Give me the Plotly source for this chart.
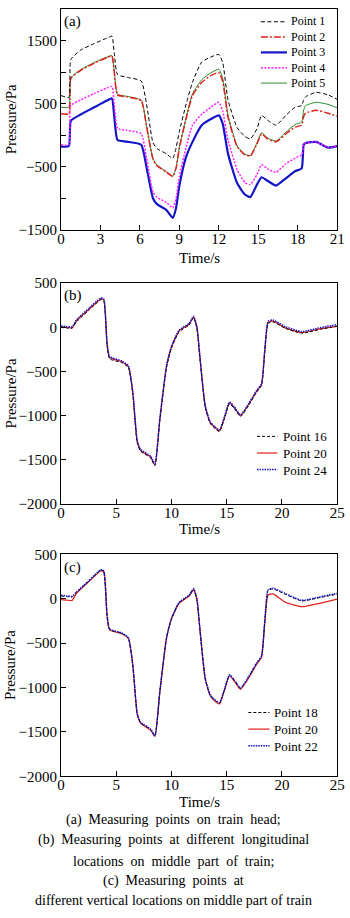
import plotly.graph_objects as go

W, H = 350, 918

# ---------------- Panel (a) data ----------------
t_a = [0, 0.6, 0.75, 1.5, 2.5, 3.5, 3.87, 4.05, 4.3, 5.0, 6.1, 6.5, 7.0, 7.3, 8.0, 8.5,
       8.75, 9.0, 9.5, 10.0, 10.7, 11.4, 12.0, 12.3, 12.7, 13.4, 14.0, 14.4, 14.9, 15.25,
       15.7, 16.35, 17.1, 17.8, 18.3, 18.45, 18.6, 19.4, 20.3, 21]
p1 = [630, 600, 1200, 1350, 1450, 1540, 1570, 1300, 960, 920, 860, 500, -120, -210, -290, -366,
      -200, 60, 480, 840, 1160, 1240, 1280, 1150, 560, 120, -20, -55, 100, 316,
      240, 160, 316, 445, 470, 560, 610, 680, 640, 570]
p2 = [340, 340, 900, 1030, 1140, 1230, 1255, 1000, 640, 610, 550, 150, -380, -480, -580, -650,
      -520, -200, 250, 630, 837, 946, 993, 850, 288, -183, -308, -328, -135, 23,
      -55, -104, 23, 130, 160, 300, 350, 395, 350, 300]
p3 = [-180, -170, 230, 330, 440, 550, 585, 300, -75, -100, -150, -500, -1000, -1090, -1180, -1307,
      -1150, -800, -350, -104, 160, 257, 316, 180, -290, -760, -940, -977, -780, -664,
      -720, -795, -680, -570, -522, -150, -120, -104, -193, -170]
p4 = [-150, -150, 470, 560, 660, 750, 774, 500, 110, 80, 26, -350, -900, -980, -1060, -1150,
      -1000, -650, -200, 160, 335, 445, 523, 380, -75, -545, -750, -780, -620, -466,
      -530, -585, -450, -360, -308, -150, -120, -104, -193, -170]
p5 = [445, 445, 910, 1040, 1150, 1240, 1262, 1010, 650, 618, 556, 158, -372, -472, -572, -645,
      -515, -190, 270, 660, 880, 990, 1045, 900, 320, -170, -300, -320, -120, 40,
      -40, -90, 50, 170, 210, 400, 470, 523, 490, 435]

# ---------------- Panel (b)/(c) time ----------------
t_bc = [0, 0.5, 1.0, 1.4, 2.5, 3.6, 3.87, 4.17, 4.4, 5.5, 6.1, 6.5, 6.9, 7.2, 8.1, 8.5,
        8.95, 9.55, 10.0, 10.7, 11.6, 12.0, 12.3, 12.6, 13.05, 13.5, 13.9, 14.35, 14.8, 15.25,
        15.7, 16.25, 17.0, 17.7, 18.15, 18.45, 18.75, 19.2, 20.3, 21.8, 23.5, 25]
b16 = [0, -8, -12, 62, 190, 312, 302, -200, -355, -400, -455, -755, -1305, -1400, -1475, -1565,
       -1050, -455, -235, -50, 25, 108, -10, -380, -900, -1085, -1140, -1180, -1030, -865,
       -920, -1010, -880, -735, -660, -270, 45, 62, -12, -65, -22, 12]
b20 = [5, 0, -5, 74, 200, 320, 310, -185, -340, -390, -445, -740, -1290, -1390, -1465, -1555,
       -1040, -445, -225, -40, 35, 115, 0, -370, -890, -1075, -1130, -1170, -1020, -855,
       -910, -1000, -870, -725, -650, -260, 55, 70, -5, -60, -15, 10]
b24 = [15, 10, 5, 85, 212, 332, 322, -175, -330, -380, -435, -730, -1280, -1380, -1455, -1545,
       -1030, -435, -215, -30, 45, 125, 10, -360, -880, -1065, -1120, -1160, -1010, -845,
       -900, -990, -860, -715, -640, -250, 68, 82, 8, -48, -2, 30]

c18 = [30, 25, 20, 70, 195, 320, 310, -185, -345, -390, -445, -745, -1295, -1395, -1470, -1545,
       -1045, -445, -225, -45, 35, 110, -5, -375, -895, -1085, -1140, -1175, -1025, -860,
       -920, -1010, -880, -730, -650, -250, 95, 110, 50, -25, 15, 50]
c20 = [-10, -15, -20, 60, 190, 312, 302, -190, -350, -395, -450, -750, -1300, -1400, -1480, -1550,
       -1050, -450, -230, -50, 30, 100, -10, -380, -900, -1090, -1150, -1185, -1030, -870,
       -930, -1020, -890, -740, -660, -270, 40, 55, -40, -90, -50, -5]
c22 = [38, 32, 26, 76, 200, 325, 315, -180, -340, -385, -440, -740, -1290, -1390, -1465, -1540,
       -1040, -440, -220, -40, 40, 115, 0, -370, -890, -1080, -1135, -1170, -1020, -855,
       -915, -1005, -875, -725, -645, -245, 102, 118, 58, -18, 22, 60]

legend_a = ["Point 1", "Point 2", "Point 3", "Point 4", "Point 5"]
legend_b = ["Point 16", "Point 20", "Point 24"]
legend_c = ["Point 18", "Point 20", "Point 22"]

xticks_a = [0, 3, 6, 9, 12, 15, 18, 21]
yticks_a = [-1500, -500, 500, 1500]
yminor_a = [-1000, 0, 1000, 2000]
xticks_bc = [0, 5, 10, 15, 20, 25]
yticks_bc = [-2000, -1500, -1000, -500, 0, 500]

caption = ["(a)  Measuring  points  on  train  head;",
           "(b)  Measuring  points  at  different  longitudinal",
           "locations  on  middle  part  of  train;",
           "(c)  Measuring  points  at",
           "different vertical locations on middle part of train"]

# ---------------- styles ----------------
FONT = "Liberation Serif"
RED = "#e0201c"
BLUE = "#1515c8"
MAG = "#ff20ff"
GRN = "#2e8b2e"

sty_a = [dict(color="black", width=1, dash="4px,2.5px"),
         dict(color=RED, width=1.5, dash="7px,2px,2px,2px"),
         dict(color=BLUE, width=2.2, dash="solid"),
         dict(color=MAG, width=1.5, dash="2px,1.5px"),
         dict(color=GRN, width=1, dash="solid")]
sty_bc = [dict(color="black", width=1, dash="3px,2px"),
          dict(color=RED, width=1.2, dash="solid"),
          dict(color=BLUE, width=1.5, dash="1.5px,1px")]

def px_x(x):
    return x / W

def px_y(y):
    return 1 - y / H

fig = go.Figure()

series_a = [p1, p2, p3, p4, p5]
for i in [4, 1, 0, 2, 3]:
    fig.add_trace(go.Scatter(x=t_a, y=series_a[i], mode="lines",
                             line=dict(**sty_a[i], shape="spline", smoothing=0.5),
                             name=legend_a[i], showlegend=False, xaxis="x", yaxis="y"))
for arr, i in zip([b20, b16, b24], [1, 0, 2]):
    fig.add_trace(go.Scatter(x=t_bc, y=arr, mode="lines",
                             line=dict(**sty_bc[i], shape="spline", smoothing=0.5),
                             name=legend_b[i], showlegend=False, xaxis="x2", yaxis="y2"))
for arr, i in zip([c20, c18, c22], [1, 0, 2]):
    fig.add_trace(go.Scatter(x=t_bc, y=arr, mode="lines",
                             line=dict(**sty_bc[i], shape="spline", smoothing=0.5),
                             name=legend_c[i], showlegend=False, xaxis="x3", yaxis="y3"))

xdom = [px_x(59), px_x(345)]
panels = {"a": (1, 226), "b": (280, 505), "c": (556, 782)}

axbase = dict(showline=True, linecolor="black", linewidth=1, mirror=True, ticks="inside",
              ticklen=5, tickcolor="black", showgrid=False, zeroline=False,
              ticklabeloverflow="allow",
              tickfont=dict(family=FONT, size=15, color="black"))
xbase = dict(axbase, ticklabelstandoff=-5)

fig.update_layout(
    width=W, height=H, margin=dict(l=0, r=0, t=0, b=0),
    paper_bgcolor="white", plot_bgcolor="white", showlegend=False,
    xaxis=dict(**xbase, domain=xdom, range=[0, 21], tickvals=xticks_a, anchor="y"),
    yaxis=dict(**axbase, domain=[px_y(panels["a"][1]), px_y(panels["a"][0])], range=[-1500, 2000],
               tickvals=yticks_a, anchor="x",
               minor=dict(ticks="inside", tickvals=yminor_a, ticklen=5, tickcolor="black")),
    xaxis2=dict(**xbase, domain=xdom, range=[0, 25], tickvals=xticks_bc, anchor="y2"),
    yaxis2=dict(**axbase, domain=[px_y(panels["b"][1]), px_y(panels["b"][0])], range=[-2000, 500],
                tickvals=yticks_bc, anchor="x2"),
    xaxis3=dict(**xbase, domain=xdom, range=[0, 25], tickvals=xticks_bc, anchor="y3"),
    yaxis3=dict(**axbase, domain=[px_y(panels["c"][1]), px_y(panels["c"][0])], range=[-2000, 500],
                tickvals=yticks_bc, anchor="x3"),
)

ann = []
shapes = []

def text(x, y, s, size=15, xanchor="center", yanchor="middle", angle=0, align="center"):
    ann.append(dict(x=px_x(x), y=px_y(y), xref="paper", yref="paper", text=s, showarrow=False,
                    xanchor=xanchor, yanchor=yanchor, textangle=angle, align=align, borderpad=0,
                    font=dict(family=FONT, size=size, color="black")))

for key, lab in zip(["a", "b", "c"], ["(a)", "(b)", "(c)"]):
    top, bot = panels[key]
    text(7, (top + bot) / 2, "Pressure/Pa", angle=-90)
    text(61, top + 13, lab, xanchor="left")
text(202, 254, "Time/s")
text(202, 530, "Time/s")
text(202, 808, "Time/s")

# legends: one multi-line text block per panel, line samples aligned to the rows
def legend(names, styles, y_first, x0, x1, xt, size):
    step = size * 1.3
    ys = [y_first + k * step for k in range(len(names))]
    for st, y in zip(styles, ys):
        shapes.append(dict(type="line", xref="paper", yref="paper", x0=px_x(x0), x1=px_x(x1),
                           y0=px_y(y), y1=px_y(y),
                           line=dict(color=st["color"], width=st["width"], dash=st["dash"])))
    ymid = (ys[0] + ys[-1]) / 2
    text(xt, ymid, "<br>".join(names), size=size, xanchor="left", align="left")

legend(legend_a, sty_a, 14, 266, 293, 296, 12)
legend(legend_b, sty_bc, 436, 262, 283, 288, 13)
legend(legend_c, sty_bc, 717, 253, 275, 279, 13)

for s, y in zip(caption, [826, 847, 869, 888, 908]):
    text(175, y, s, size=14)

fig.update_layout(annotations=ann, shapes=shapes)
fig.write_html("out.html")
